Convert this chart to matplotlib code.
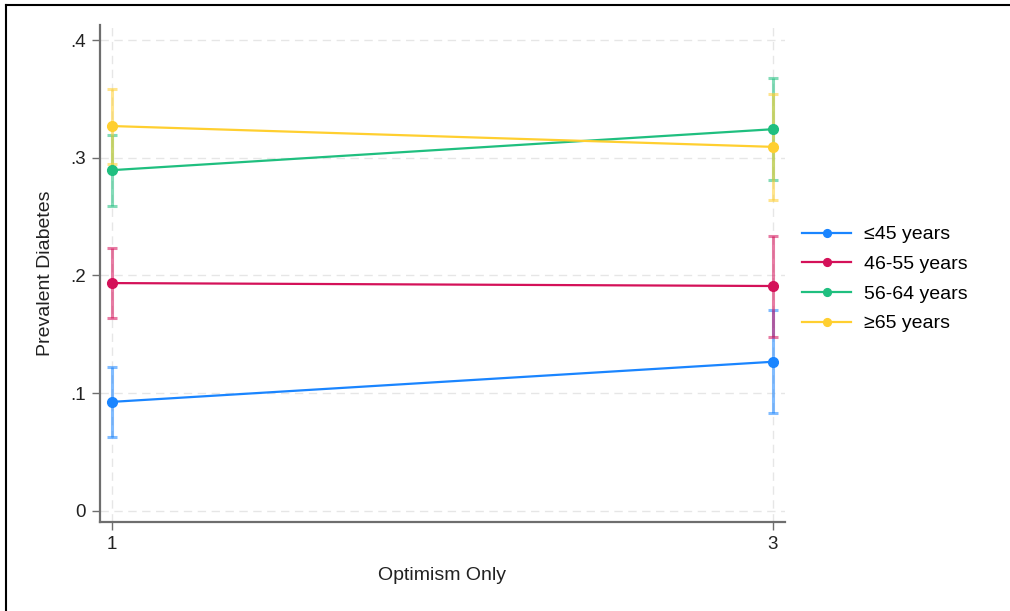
import matplotlib.pyplot as plt
from matplotlib.lines import Line2D
from matplotlib.ticker import FixedLocator, FixedFormatter

plt.rcParams['font.family'] = ['Liberation Sans', 'DejaVu Sans']

# data
x_vals = [1, 3]
groups = ['≤45 years', '46-55 years', '56-64 years', '≥65 years']
means = [[0.0925, 0.1266],
         [0.1935, 0.1910],
         [0.2895, 0.3243],
         [0.3270, 0.3093]]
lower = [[0.063, 0.083],
         [0.164, 0.148],
         [0.259, 0.281],
         [0.295, 0.264]]
upper = [[0.1225, 0.171],
         [0.2233, 0.2337],
         [0.319, 0.368],
         [0.3585, 0.3546]]
colors = ['#1a85ff', '#d41159', '#1fbf7f', '#ffcf30']

y_ticks = [0, 0.1, 0.2, 0.3, 0.4]
y_labels = ['0', '.1', '.2', '.3', '.4']

fig = plt.figure(figsize=(10.1, 6.11), dpi=100)
ax = fig.add_axes([0.099, 0.1457, 0.678, 0.813])

for m, lo, hi, c in zip(means, lower, upper, colors):
    err = [[mm - l for mm, l in zip(m, lo)], [h - mm for mm, h in zip(m, hi)]]
    ax.errorbar(x_vals, m, yerr=err, fmt='none', ecolor=c, elinewidth=2.2,
                capsize=3.5, capthick=2.2, alpha=0.55, zorder=3)

handles = []
for m, c, g in zip(means, colors, groups):
    h, = ax.plot(x_vals, m, '-o', color=c, lw=1.6, ms=7, label=g, zorder=4)
    handles.append(h)

ax.set_xlim(0.9637, 3.036)
ax.set_ylim(-0.0096, 0.4127)
ax.xaxis.set_major_locator(FixedLocator(x_vals))
ax.set_xticklabels(['1', '3'])
ax.yaxis.set_major_locator(FixedLocator(y_ticks))
ax.yaxis.set_major_formatter(FixedFormatter(y_labels))

ax.grid(True, ls=(0, (6, 4)), color='#e6e6e6', lw=1)
ax.set_axisbelow(True)
for s in ['top', 'right']:
    ax.spines[s].set_visible(False)
for s in ['left', 'bottom']:
    ax.spines[s].set_color('#6e6e6e')
    ax.spines[s].set_linewidth(1.6)
ax.tick_params(length=6, width=1, color='#6e6e6e', labelsize=13.5, labelcolor='#222222', pad=4)

ax.set_xlabel('Optimism Only', fontsize=14, color='#222222', labelpad=10)
ax.set_ylabel('Prevalent Diabetes', fontsize=14, color='#222222', labelpad=12)

fig.legend(handles=handles, loc='upper left', bbox_to_anchor=(0.777, 0.659),
           frameon=False, fontsize=14, handlelength=2.5, handletextpad=0.7,
           labelspacing=0.62, markerscale=0.8)

# outer frame of the screenshot (left and top edges)
fig.add_artist(Line2D([0.006, 0.006], [0, 0.991], color='black', lw=1.5,
                      transform=fig.transFigure))
fig.add_artist(Line2D([0.006, 1.0], [0.991, 0.991], color='black', lw=1.5,
                      transform=fig.transFigure))

fig.savefig('out.png', dpi=100, facecolor='white')
